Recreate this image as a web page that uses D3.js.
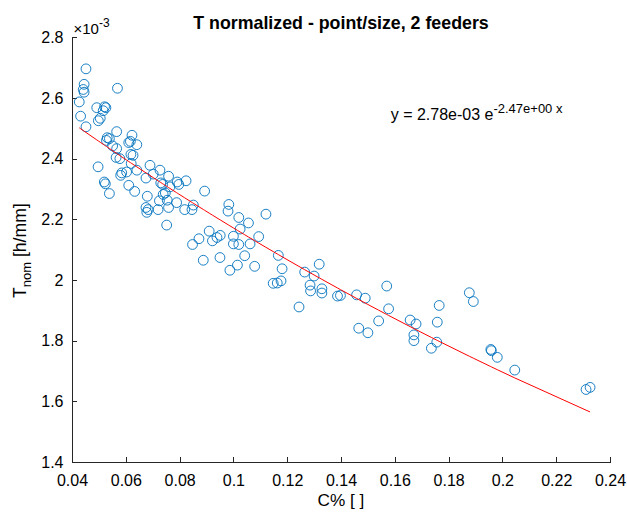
<!DOCTYPE html>
<html>
<head>
<meta charset="utf-8">
<script src="https://cdn.jsdelivr.net/npm/d3@7"></script>
<style>
  body { margin: 0; background: #fff; }
  text { font-family: "Liberation Sans", Arial, Helvetica, sans-serif; fill: #000; }
</style>
</head>
<body>
<div id="chart"></div>
<script>
// C% [ ] for every sample
const cPct = [
  0.0452, 0.0445, 0.0442, 0.0445, 0.0427, 0.0432, 0.0452, 0.0569, 0.0492, 0.0521,
  0.0526, 0.0516, 0.0505, 0.0498, 0.0566, 0.0623, 0.0531, 0.0539, 0.0528, 0.0641,
  0.0611, 0.0617, 0.0551, 0.0566, 0.0619, 0.0627, 0.0564, 0.0578,
  0.0497, 0.0520, 0.0524, 0.0539, 0.0585, 0.0581, 0.0603, 0.0611, 0.0633, 0.0641,
  0.0620, 0.0690, 0.0727, 0.0702, 0.0675, 0.0759, 0.0791, 0.0797, 0.0824, 0.0730,
  0.0737, 0.0747, 0.0739, 0.0764, 0.0680, 0.0725, 0.0754, 0.0789, 0.0675, 0.0683,
  0.0678, 0.0720, 0.0759, 0.0819, 0.0846, 0.0851, 0.0752,
  0.0893, 0.0983, 0.0980, 0.1020, 0.1056, 0.1121, 0.1025, 0.0910, 0.0872, 0.0848,
  0.0922, 0.0939, 0.0951, 0.1000, 0.1000, 0.1020, 0.1062, 0.1094, 0.1167, 0.0888,
  0.0950, 0.1042, 0.1015, 0.0987, 0.1079, 0.1181, 0.1265, 0.1148, 0.1163, 0.1177,
  0.1319, 0.1300, 0.1285, 0.1287, 0.1329, 0.1329, 0.1387, 0.1398, 0.1244,
  0.1458, 0.1490, 0.1570, 0.1577, 0.1540, 0.1466, 0.1500, 0.1657, 0.1679, 0.1671,
  0.1671, 0.1736, 0.1758, 0.1756, 0.1765, 0.1877, 0.1892, 0.1957, 0.1959, 0.1981,
  0.2046, 0.2311, 0.2326
];

// T_nom [h/mm], in units of 1e-3
const tNorm = [
  2.696, 2.645, 2.628, 2.619, 2.587, 2.540, 2.505, 2.632, 2.568, 2.571,
  2.568, 2.558, 2.533, 2.525, 2.489, 2.477, 2.469, 2.466, 2.460, 2.446,
  2.453, 2.457, 2.442, 2.433, 2.414, 2.411, 2.404, 2.400,
  2.373, 2.323, 2.317, 2.285, 2.353, 2.345, 2.356, 2.312, 2.292, 2.362,
  2.384, 2.378, 2.362, 2.349, 2.336, 2.342, 2.323, 2.315, 2.327, 2.320,
  2.315, 2.287, 2.282, 2.307, 2.276, 2.261, 2.263, 2.255, 2.239, 2.232,
  2.223, 2.232, 2.239, 2.232, 2.232, 2.247, 2.181,
  2.293, 2.249, 2.227, 2.206, 2.188, 2.217, 2.168, 2.161, 2.136, 2.117,
  2.129, 2.140, 2.147, 2.144, 2.119, 2.117, 2.119, 2.143, 2.081, 2.065,
  2.074, 2.080, 2.049, 2.032, 2.045, 2.037, 2.026, 1.989, 1.990, 1.997,
  2.052, 2.013, 1.983, 1.964, 1.971, 1.957, 1.947, 1.949, 1.911,
  1.951, 1.940, 1.980, 1.905, 1.865, 1.841, 1.826, 1.868, 1.855, 1.819,
  1.800, 1.775, 1.861, 1.795, 1.916, 1.958, 1.929, 1.771, 1.767, 1.745,
  1.703, 1.639, 1.646
];

// exponential fit shown on the chart: y = a e^(b x)
const fitA = 2.78;   // x 1e-3
const fitB = -2.47;

const xTicks = [0.04, 0.06, 0.08, 0.1, 0.12, 0.14, 0.16, 0.18, 0.2, 0.22, 0.24];
const yTicks = [1.4, 1.6, 1.8, 2, 2.2, 2.4, 2.6, 2.8];

const width = 627, height = 513;
const margin = { left: 72, right: 17, top: 37.3, bottom: 51 };

const svg = d3.select("#chart").append("svg")
  .attr("width", width)
  .attr("height", height);

const x = d3.scaleLinear()
  .domain([0.04, 0.24])
  .range([margin.left, width - margin.right]);

const y = d3.scaleLinear()
  .domain([1.4, 2.8])
  .range([height - margin.bottom, margin.top]);

const points = cPct.map((c, i) => ({ c: c, t: tNorm[i] }));

// x axis, ticks pointing inward
const xAxis = svg.append("g")
  .attr("transform", `translate(0,${height - margin.bottom})`)
  .call(d3.axisBottom(x).tickValues(xTicks).tickFormat(d => String(d))
    .tickSizeInner(-5.3).tickSizeOuter(0).tickPadding(13));

// y axis
const yAxis = svg.append("g")
  .attr("transform", `translate(${margin.left},0)`)
  .call(d3.axisLeft(y).tickValues(yTicks).tickFormat(d => String(+d.toFixed(1)))
    .tickSizeInner(-5.3).tickSizeOuter(0).tickPadding(8.5));

[xAxis, yAxis].forEach(g => {
  g.selectAll("path, line").attr("stroke", "#262626").attr("stroke-width", 1)
    .attr("shape-rendering", "crispEdges");
  g.selectAll("text").attr("font-size", 16).attr("fill", "#262626")
    .style("font-family", '"Liberation Sans", Arial, Helvetica, sans-serif');
});

// markers
svg.append("g")
  .selectAll("circle")
  .data(points)
  .join("circle")
  .attr("cx", d => x(d.c))
  .attr("cy", d => y(d.t))
  .attr("r", 4.9)
  .attr("fill", "none")
  .attr("stroke", "#0072BD")
  .attr("stroke-width", 0.9);

// fitted curve across the sampled C% values
const fitData = cPct.slice().sort((a, b) => a - b).map(c => ({ c: c, t: fitA * Math.exp(fitB * c) }));

svg.append("path")
  .datum(fitData)
  .attr("fill", "none")
  .attr("stroke", "#FF0000")
  .attr("stroke-width", 1)
  .attr("d", d3.line().x(d => x(d.c)).y(d => y(d.t)));

// exponent marker on the y axis
const expo = svg.append("text")
  .attr("x", 73.5)
  .attr("y", 34)
  .attr("font-size", 15)
  .attr("fill", "#262626");
expo.append("tspan").text("\u00d710");
expo.append("tspan").attr("dy", -7.5).attr("font-size", 12).text("-3");

// title
svg.append("text")
  .attr("x", (margin.left + width - margin.right) / 2)
  .attr("y", 29.3)
  .attr("text-anchor", "middle")
  .attr("font-size", 17.8)
  .attr("font-weight", "bold")
  .text("T normalized - point/size, 2 feeders");

// equation label
const eq = svg.append("text")
  .attr("x", 390.7)
  .attr("y", 119.5)
  .attr("font-size", 16);
eq.append("tspan").text("y = 2.78e-03 e");
eq.append("tspan").attr("dy", -7).attr("font-size", 13).text("-2.47e+00 x");

// x label
svg.append("text")
  .attr("x", (margin.left + width - margin.right) / 2)
  .attr("y", 506)
  .attr("text-anchor", "middle")
  .attr("font-size", 17.2)
  .attr("fill", "#262626")
  .text("C% [ ]");

// y label with subscript
const yl = svg.append("text")
  .attr("transform", `translate(26,298) rotate(-90)`)
  .attr("font-size", 17.6)
  .attr("fill", "#262626");
yl.append("tspan").text("T");
yl.append("tspan").attr("dy", 5).attr("font-size", 13).text("nom");
yl.append("tspan").attr("dy", -5).text(" [h/mm]");
</script>
</body>
</html>
